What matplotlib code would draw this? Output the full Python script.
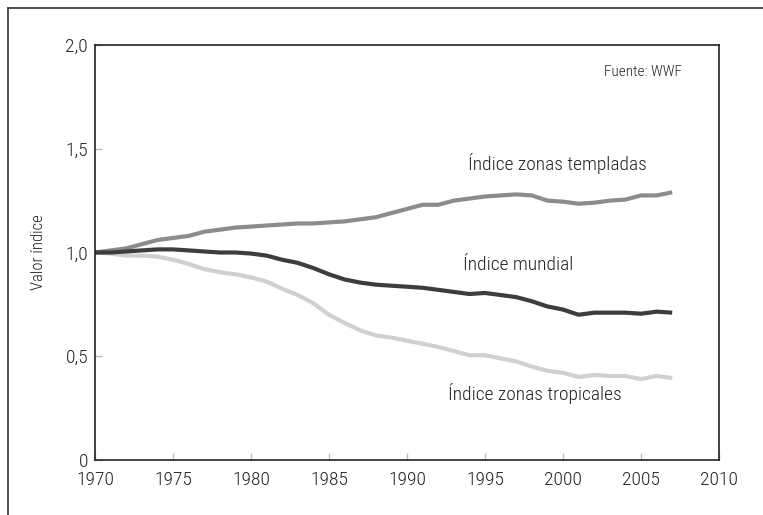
import matplotlib
matplotlib.use("Agg")
import matplotlib.pyplot as plt
from matplotlib.lines import Line2D
from matplotlib import font_manager

available = {f.name for f in font_manager.fontManager.ttflist}
family = None
for cand in ['Roboto Condensed', 'Liberation Sans Narrow', 'Open Sans Condensed',
             'Noto Sans Condensed', 'DejaVu Sans Condensed']:
    if cand in available:
        family = cand
        break
if family is None:
    family = 'Liberation Sans'
plt.rcParams['font.family'] = [family, 'DejaVu Sans']
plt.rcParams['font.weight'] = 'light'
plt.rcParams['axes.labelweight'] = 'light'

years = list(range(1970, 2008))
templadas = [1.0, 1.01, 1.02, 1.04, 1.06, 1.07, 1.08, 1.10, 1.11, 1.12, 1.125, 1.13, 1.135,
             1.14, 1.14, 1.145, 1.15, 1.16, 1.17, 1.19, 1.21, 1.23, 1.23, 1.25, 1.26, 1.27,
             1.275, 1.28, 1.275, 1.25, 1.245, 1.235, 1.24, 1.25, 1.255, 1.275, 1.275, 1.29]
mundial = [1.0, 1.0, 1.005, 1.01, 1.015, 1.015, 1.01, 1.005, 1.0, 1.0, 0.995, 0.985, 0.965,
           0.95, 0.925, 0.895, 0.87, 0.855, 0.845, 0.84, 0.835, 0.83, 0.82, 0.81, 0.80, 0.805,
           0.795, 0.785, 0.765, 0.74, 0.725, 0.70, 0.71, 0.71, 0.71, 0.705, 0.715, 0.71]
tropicales = [1.0, 0.995, 0.985, 0.985, 0.98, 0.965, 0.945, 0.92, 0.905, 0.895, 0.88, 0.86,
              0.825, 0.795, 0.755, 0.70, 0.66, 0.625, 0.60, 0.59, 0.575, 0.56, 0.545, 0.525,
              0.505, 0.505, 0.49, 0.475, 0.45, 0.43, 0.42, 0.40, 0.41, 0.405, 0.405, 0.39,
              0.405, 0.395]

xticks = [1970, 1975, 1980, 1985, 1990, 1995, 2000, 2005, 2010]
yticks = [0, 0.5, 1.0, 1.5, 2.0]
ytick_labels = ['0', '0,5', '1,0', '1,5', '2,0']

narrow = family != 'Liberation Sans'
fs_tick = 14 if narrow else 12
fs_lab = 14 if narrow else 12
fs_src = 11 if narrow else 9.5
fs_y = 12 if narrow else 10.5

fig = plt.figure(figsize=(7.63, 5.15), dpi=100)
W, H = 763, 515
ax = fig.add_axes([95 / W, 1 - 460 / H, (719 - 95) / W, (460 - 45) / H])

ax.plot(years, tropicales, color='#d0d0d0', lw=3, solid_capstyle='butt')
ax.plot(years, templadas, color='#8c8c8c', lw=3, solid_capstyle='butt')
ax.plot(years, mundial, color='#3d3d3d', lw=3, solid_capstyle='butt')

ax.set_xlim(1970, 2010)
ax.set_ylim(0, 2.0)
ax.set_xticks(xticks)
ax.set_xticklabels([str(x) for x in xticks])
ax.set_yticks(yticks)
ax.set_yticklabels(ytick_labels)
ax.tick_params(direction='in', length=5, width=1, color='#bbbbbb', labelsize=fs_tick,
               labelcolor='#222222')
ax.tick_params(axis='x', pad=8)
ax.tick_params(axis='y', pad=5)
for s in ax.spines.values():
    s.set_linewidth(1.2)
    s.set_color('#222222')

ax.set_ylabel('Valor índice', fontsize=fs_y, color='#222222', labelpad=14,
              fontweight='light')

ax.text(1993.9, 1.43, 'Índice zonas templadas', fontsize=fs_lab, color='#222222', va='center')
ax.text(1993.6, 0.94, 'Índice mundial', fontsize=fs_lab, color='#222222', va='center')
ax.text(1992.6, 0.32, 'Índice zonas tropicales', fontsize=fs_lab, color='#222222', va='center')
ax.text(2007.6, 1.87, 'Fuente: WWF', fontsize=fs_src, color='#222222', va='center', ha='right')

# outer frame (top and left edges)
fig.add_artist(Line2D([8 / W, 8 / W], [0, 1 - 8 / H], transform=fig.transFigure,
                      color='#333333', lw=1.2))
fig.add_artist(Line2D([8 / W, 1], [1 - 8 / H, 1 - 8 / H], transform=fig.transFigure,
                      color='#333333', lw=1.2))

fig.savefig('out.png', dpi=100)
